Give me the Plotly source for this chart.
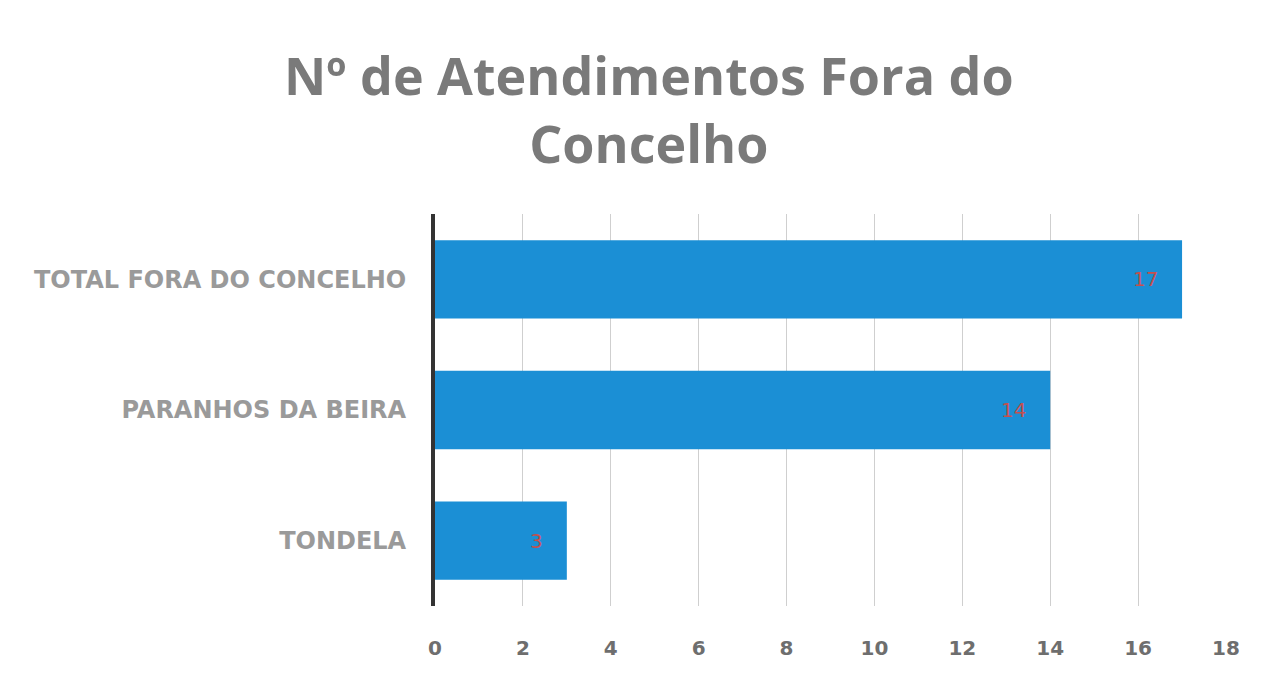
import plotly.graph_objects as go

# Nº de atendimentos fora do concelho
titulo = 'Nº de Atendimentos Fora do<br>Concelho'
categorias = ['TONDELA', 'PARANHOS DA BEIRA', 'TOTAL FORA DO CONCELHO']
valores = [3, 14, 17]
ticks_x = [0, 2, 4, 6, 8, 10, 12, 14, 16, 18]

fig = go.Figure()
fig.add_trace(go.Bar(
	y=categorias,
	x=valores,
	orientation='h',
	width=0.6,
	marker=dict(color='#1b8fd5', line=dict(width=0)),
))

# value labels, a bit inside the bar end
for cat, v in zip(categorias, valores):
	fig.add_annotation(
		x=v, y=cat, text=str(v), showarrow=False,
		xanchor='right', xshift=-22,
		font=dict(family='DejaVu Sans', size=20, color='#c4504f'),
	)

# title as one centred annotation
fig.add_annotation(
	xref='paper', yref='paper', x=0.27, y=1.268,
	xanchor='center', yanchor='middle', showarrow=False,
	text=titulo,
	font=dict(family='Open Sans', size=52, color='#7a7a7a', weight='bold'),
)

fig.update_layout(
	width=1278, height=676,
	paper_bgcolor='white', plot_bgcolor='white',
	margin=dict(l=427, r=60, t=206, b=78),
	showlegend=False,
)
fig.update_xaxes(
	range=[0, 18], tickvals=ticks_x,
	showgrid=True, gridcolor='#cfcfcf', gridwidth=1,
	zeroline=False, showline=False,
	tickfont=dict(family='DejaVu Sans', size=20, color='#6e6e6e', weight='bold'),
	ticklabelstandoff=28,
)
fig.update_yaxes(
	showline=True, linecolor='#333333', linewidth=4,
	showgrid=False,
	ticks='', ticklabelstandoff=20,
	tickfont=dict(family='DejaVu Sans', size=24, color='#9a9a9a', weight='bold'),
)

fig.write_html('out.html')
